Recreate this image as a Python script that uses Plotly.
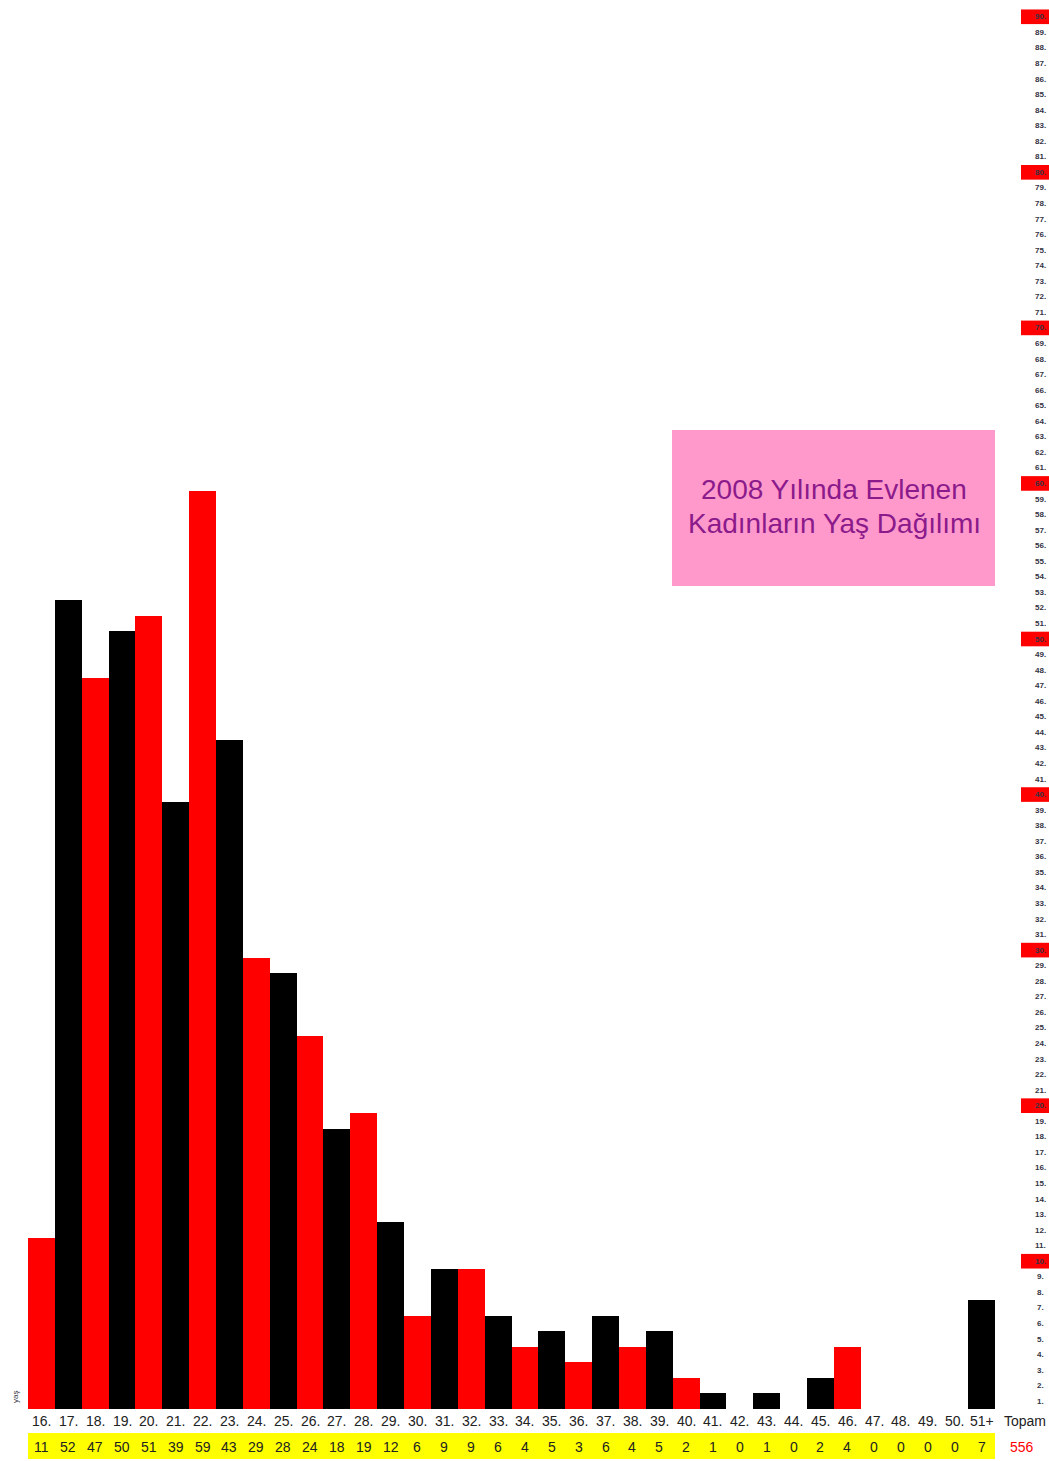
import plotly.graph_objects as go

categories = ["16.", "17.", "18.", "19.", "20.", "21.", "22.", "23.", "24.", "25.", "26.", "27.",
              "28.", "29.", "30.", "31.", "32.", "33.", "34.", "35.", "36.", "37.", "38.", "39.",
              "40.", "41.", "42.", "43.", "44.", "45.", "46.", "47.", "48.", "49.", "50.", "51+"]
counts = [11, 52, 47, 50, 51, 39, 59, 43, 29, 28, 24, 18,
          19, 12, 6, 9, 9, 6, 4, 5, 3, 6, 4, 5,
          2, 1, 0, 1, 0, 2, 4, 0, 0, 0, 0, 7]
total_label = "Topam"
total_value = "556"
title_lines = ["2008 Yılında Evlenen", "Kadınların Yaş Dağılımı"]
axis_label = "yaş"
scale_ticks = list(range(1, 91))

W, H = 1049, 1461
ML, MR, MT, MB = 28, 1049 - 995, 9, 1461 - 1409
PW = W - ML - MR
PH = H - MT - MB
YMAX = 90

def px_to_paper_x(px):
    return (px - ML) / PW

def px_to_paper_y(py):
    return (H - MB - py) / PH

xs = list(range(len(categories)))
colors = ["#FF0000" if i % 2 == 0 else "#000000" for i in xs]

fig = go.Figure()
fig.add_trace(go.Bar(x=xs, y=counts, marker=dict(color=colors, line=dict(width=0)),
                     hoverinfo="skip", showlegend=False))

shapes = []
annotations = []

shapes.append(dict(type="rect", xref="x", yref="paper",
                   x0=-0.5, x1=len(categories) - 0.5,
                   y0=px_to_paper_y(1459), y1=px_to_paper_y(1433),
                   fillcolor="#FFFF00", line=dict(width=0), layer="below"))

font_main = "Liberation Sans, Arial, sans-serif"
txt_col = "#222222"
for i, (c, v) in enumerate(zip(categories, counts)):
    annotations.append(dict(x=i, y=px_to_paper_y(1421), xref="x", yref="paper",
                            text=c, showarrow=False, xanchor="center", yanchor="middle",
                            font=dict(family=font_main, size=14, color=txt_col)))
    annotations.append(dict(x=i, y=px_to_paper_y(1447), xref="x", yref="paper",
                            text=str(v), showarrow=False, xanchor="center", yanchor="middle",
                            font=dict(family=font_main, size=14, color=txt_col)))

annotations.append(dict(x=px_to_paper_x(1025), y=px_to_paper_y(1421), xref="paper", yref="paper",
                        text=total_label, showarrow=False, xanchor="center", yanchor="middle",
                        font=dict(family=font_main, size=14, color=txt_col)))
annotations.append(dict(x=px_to_paper_x(1022), y=px_to_paper_y(1447), xref="paper", yref="paper",
                        text=total_value, showarrow=False, xanchor="center", yanchor="middle",
                        font=dict(family=font_main, size=14, color="#FF0000")))

for k in scale_ticks:
    yv = k - 0.5
    if k % 10 == 0:
        shapes.append(dict(type="rect", xref="paper", yref="y",
                           x0=px_to_paper_x(1021), x1=px_to_paper_x(1049),
                           y0=yv - 0.47, y1=yv + 0.47,
                           fillcolor="#FF0000", line=dict(width=0)))
    annotations.append(dict(x=px_to_paper_x(1040), y=yv, xref="paper", yref="y",
                            text=f"<b>{k}.</b>", showarrow=False, xanchor="center", yanchor="middle",
                            font=dict(family=font_main, size=8, color="#333344")))

annotations.append(dict(x=px_to_paper_x(15), y=px_to_paper_y(1397), xref="paper", yref="paper",
                        text=axis_label, showarrow=False, textangle=-90,
                        xanchor="center", yanchor="middle",
                        font=dict(family=font_main, size=8, color="#333344")))

shapes.append(dict(type="rect", xref="paper", yref="paper",
                   x0=px_to_paper_x(672), x1=px_to_paper_x(995),
                   y0=px_to_paper_y(586), y1=px_to_paper_y(430),
                   fillcolor="#FF99CC", line=dict(width=0)))
for line, ypx in zip(title_lines, [490, 523]):
    annotations.append(dict(x=px_to_paper_x(834), y=px_to_paper_y(ypx), xref="paper", yref="paper",
                            text=line, showarrow=False, xanchor="center", yanchor="middle",
                            font=dict(family=font_main, size=28, color="#8B1A8B")))

fig.update_layout(
    width=W, height=H,
    margin=dict(l=ML, r=MR, t=MT, b=MB, pad=0),
    paper_bgcolor="white", plot_bgcolor="white",
    bargap=0,
    xaxis=dict(range=[-0.5, len(categories) - 0.5], showgrid=False, zeroline=False,
               showticklabels=False, showline=False, fixedrange=True),
    yaxis=dict(range=[0, YMAX], showgrid=False, zeroline=False,
               showticklabels=False, showline=False, fixedrange=True),
    shapes=shapes,
    annotations=annotations,
    showlegend=False,
)

fig.write_html(
    "out.html",
    config={"displayModeBar": False, "staticPlot": True},
    post_script=(
        "document.body.style.margin='0';"
        "document.body.style.overflow='hidden';"
        "document.documentElement.style.overflow='hidden';"
    ),
)
